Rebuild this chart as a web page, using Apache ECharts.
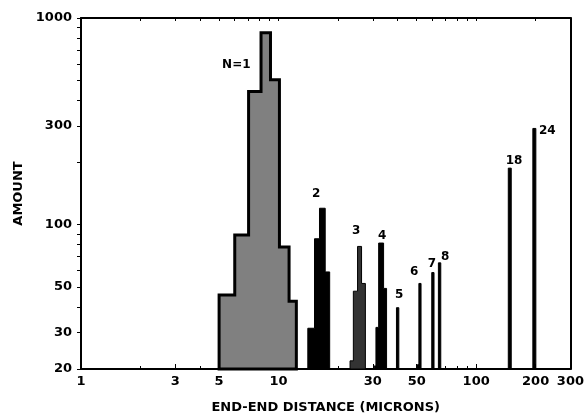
<!DOCTYPE html>
<html><head><meta charset="utf-8">
<script src="https://cdn.jsdelivr.net/npm/echarts@6/dist/echarts.min.js"></script>
<style>html,body{margin:0;padding:0;background:#fff}#c{width:587px;height:419px}</style>
</head><body><div id="c"></div>
<script>
// Group labels (number of units N)
const groupNames = ['N=1', '2', '3', '4', '5', '6', '7', '8', '18', '24'];
// Histogram bin edges (microns) per group
const binEdges = [
  [5, 6, 7.05, 8.15, 9.1, 10.1, 11.3, 12.3],
  [14.06, 15.2, 16.11, 17.22, 18.14],
  [23.0, 23.9, 25.1, 26.3, 27.5],
  [30.5, 31.1, 32.1, 34.0, 35.2],
  [39.5, 40.6],
  [50.5, 51.3, 52.6],
  [59.6, 61.2],
  [64.4, 66.2],
  [145.4, 150.5],
  [193.6, 200.5]
];
// Counts (amount) per bin
const binCounts = [
  [45.6, 89, 441, 849, 503, 78, 42.6],
  [31.5, 85.4, 120, 59],
  [21.9, 47.6, 78.4, 51.9],
  [20.7, 31.8, 81.4, 49.1],
  [39.6],
  [21, 51.9],
  [58.6],
  [65.3],
  [187.6],
  [292]
];
// Annotation anchor (data coordinates) for each group label
const labelX = [6.11, 15.5, 24.7, 33.4, 40.8, 48.6, 59.7, 69.7, 155.6, 229];
const labelY = [594, 140.6, 93.6, 88.6, 45.6, 59.0, 64.8, 69.7, 203.4, 283.6];
// Axis ticks / labels
const xTickLabels = [1, 3, 5, 10, 30, 50, 100, 200, 300];
const xMinorTicks = [1,2,3,4,5,6,7,8,9,10,20,30,40,50,60,70,80,90,100,200,300];
const yTickLabels = [20, 30, 50, 100, 300, 1000];
const yTicks = [20,30,40,50,60,70,80,90,100,200,300,400,500,600,700,800,900,1000];
const xMin = 1, xMax = 300, yMin = 20, yMax = 1000;

const groupFill = ['#808080', '#000', '#333', '#000', '#000', '#000', '#000', '#000', '#000', '#000'];
const groupStrokeW = [3, 1, 1, 1, 1, 1, 1, 1, 1, 1];

const FONT = 'DejaVu Sans';
const chart = echarts.init(document.getElementById('c'), null, {renderer: 'canvas'});

const histData = groupNames.map((n, i) => ({value: [i], name: n}));

function renderHist(params, api) {
  const i = api.value(0);
  const e = binEdges[i], c = binCounts[i];
  const pts = [api.coord([e[0], yMin])];
  for (let k = 0; k < c.length; k++) {
    pts.push(api.coord([e[k], c[k]]));
    pts.push(api.coord([e[k + 1], c[k]]));
  }
  pts.push(api.coord([e[e.length - 1], yMin]));
  return {
    type: 'polygon',
    shape: {points: pts},
    style: {fill: groupFill[i], stroke: '#000', lineWidth: groupStrokeW[i], lineJoin: 'miter'}
  };
}

const labelData = groupNames.map((n, i) => [labelX[i], labelY[i], n]);

const axisText = {color: '#000', fontSize: 13, fontWeight: 'bold', fontFamily: FONT};

chart.setOption({
  animation: false,
  backgroundColor: '#fff',
  grid: {left: 81, right: 14, top: 18, bottom: 48, containLabel: false},
  xAxis: [
    {
      type: 'log', logBase: 10, min: xMin, max: xMax, position: 'bottom',
      axisLine: {show: true, lineStyle: {color: '#000', width: 2}},
      axisTick: {show: true, inside: true, length: 5, customValues: xTickLabels, lineStyle: {color: '#000', width: 1}},
      axisLabel: Object.assign({show: true, customValues: xTickLabels, margin: 6, formatter: v => String(Math.round(v))}, axisText),
      splitLine: {show: false},
      name: 'END-END DISTANCE (MICRONS)', nameLocation: 'middle', nameGap: 32,
      nameTextStyle: {color: '#000', fontSize: 13, fontWeight: 'bold', fontFamily: FONT}
    },
    {
      type: 'log', logBase: 10, min: xMin, max: xMax, position: 'bottom',
      axisLine: {show: false},
      axisTick: {show: true, inside: true, length: 3, customValues: xMinorTicks, lineStyle: {color: '#000', width: 1}},
      axisLabel: {show: false}, splitLine: {show: false}
    },
    {
      type: 'log', logBase: 10, min: xMin, max: xMax, position: 'top',
      axisLine: {show: true, lineStyle: {color: '#000', width: 2}},
      axisTick: {show: true, inside: true, length: 3, customValues: xMinorTicks, lineStyle: {color: '#000', width: 1}},
      axisLabel: {show: false}, splitLine: {show: false}
    }
  ],
  yAxis: [
    {
      type: 'log', logBase: 10, min: yMin, max: yMax, position: 'left',
      axisLine: {show: true, lineStyle: {color: '#000', width: 2}},
      axisTick: {show: true, inside: false, length: 4, customValues: yTicks, lineStyle: {color: '#000', width: 1}},
      axisLabel: Object.assign({show: true, customValues: yTickLabels, margin: 9, formatter: v => String(Math.round(v))}, axisText),
      splitLine: {show: false},
      name: 'AMOUNT', nameLocation: 'middle', nameGap: 54, nameRotate: 90,
      nameTextStyle: {color: '#000', fontSize: 13, fontWeight: 'bold', fontFamily: FONT}
    },
    {
      type: 'log', logBase: 10, min: yMin, max: yMax, position: 'right',
      axisLine: {show: true, lineStyle: {color: '#000', width: 2}},
      axisTick: {show: false}, axisLabel: {show: false}, splitLine: {show: false}
    }
  ],
  series: [
    {
      type: 'custom', xAxisIndex: 0, yAxisIndex: 0,
      renderItem: renderHist, data: histData, clip: false, z: 2
    },
    {
      type: 'custom', xAxisIndex: 0, yAxisIndex: 0, z: 3,
      data: labelData,
      renderItem: function (params, api) {
        const p = api.coord([api.value(0), api.value(1)]);
        return {
          type: 'text',
          style: {
            x: p[0], y: p[1], text: labelData[params.dataIndex][2],
            fill: '#000', font: 'bold 12px "' + FONT + '"', align: 'center', verticalAlign: 'middle'
          }
        };
      }
    }
  ]
});
</script>
</body></html>
